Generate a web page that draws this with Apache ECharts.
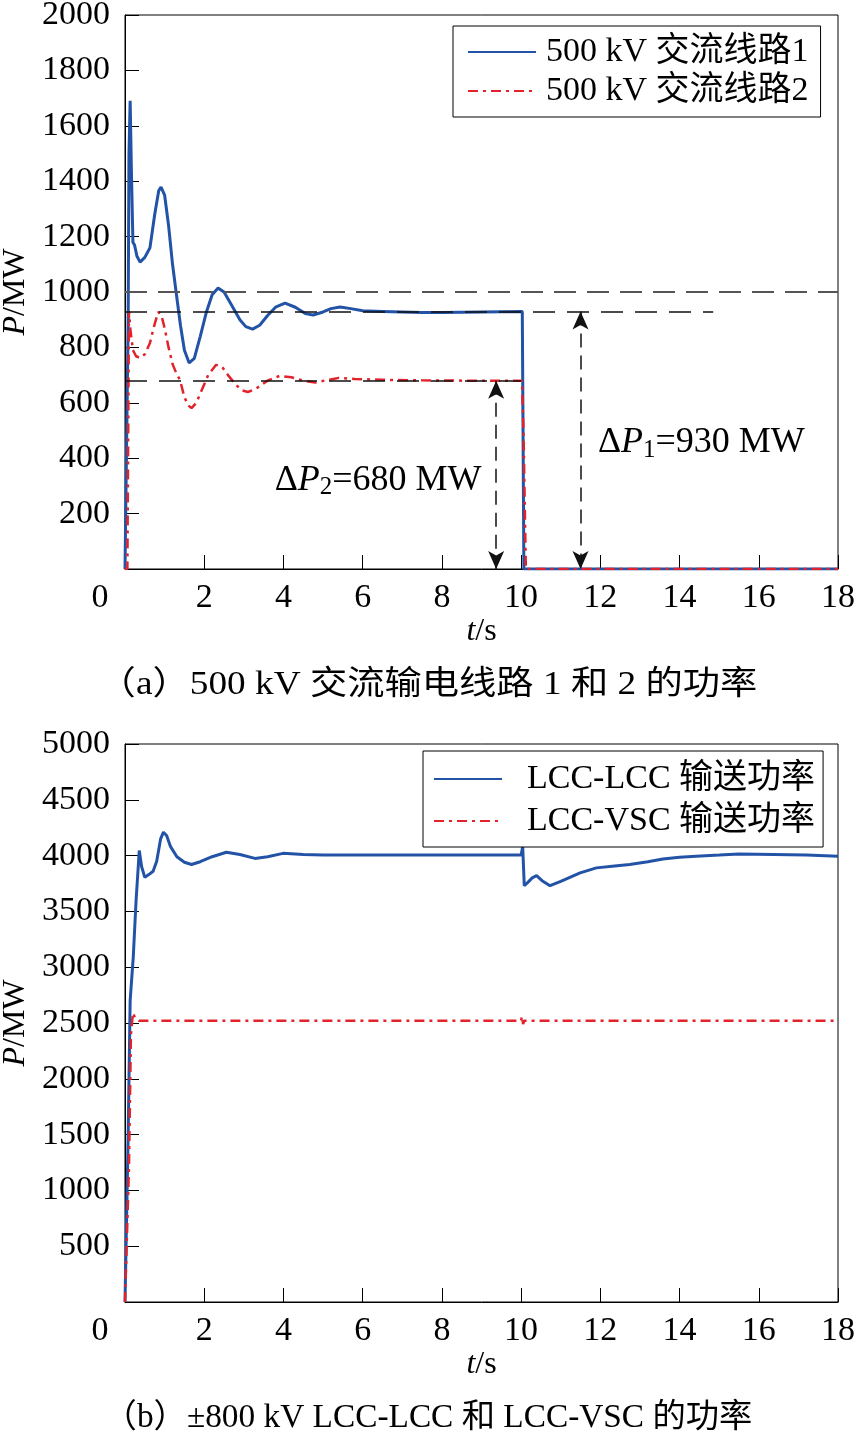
<!DOCTYPE html>
<html><head><meta charset="utf-8">
<script src="https://cdn.jsdelivr.net/npm/echarts/dist/echarts.min.js"></script>
<style>html,body{margin:0;padding:0;background:#fff}#c{width:856px;height:1446px}</style>
</head><body><div id="c"></div>
<script>
// ---------- data (a): 500 kV AC lines ----------
const line1Name = '500 kV 交流线路1';
const line2Name = '500 kV 交流线路2';
const line1T = [0,0.05,0.08,0.1,0.13,0.16,0.2,0.24,0.3,0.38,0.5,0.63,0.75,0.85,0.91,1.0,1.1,1.2,1.29,1.4,1.5,1.62,1.75,1.9,2.05,2.2,2.35,2.5,2.7,2.9,3.05,3.22,3.4,3.6,3.8,4.04,4.3,4.55,4.75,5.0,5.2,5.43,5.7,6.0,6.5,7.0,7.5,8.0,8.5,9.0,9.5,10.03,10.07,12,14,16,18];
const line1P = [0,0,900,1500,1690,1450,1180,1170,1130,1108,1125,1160,1280,1365,1379,1350,1240,1100,1000,880,790,744,760,840,925,990,1014,1000,950,900,875,866,880,915,945,960,945,922,917,928,940,946,940,932,930,928,926,926,927,928,929,930,0,0,0,0,0];
const line2T = [0,0.06,0.1,0.14,0.2,0.28,0.38,0.5,0.63,0.75,0.84,0.92,1.0,1.1,1.2,1.3,1.39,1.5,1.6,1.68,1.8,1.95,2.1,2.3,2.45,2.6,2.8,2.95,3.1,3.3,3.6,3.9,4.2,4.5,4.8,5.1,5.4,5.8,6.5,7.5,8.5,9.5,10.02,10.06,10.12,12,14,16,18];
const line2P = [0,0,930,860,790,768,762,775,816,885,928,915,870,800,740,705,682,620,590,581,600,650,700,737,730,700,665,645,639,650,680,697,692,680,673,682,690,686,683,681,680,680,680,500,0,0,0,0,0];
const refLevels = [1000, 930, 680];          // MW dashed reference levels
const refEnds = [18, 14.85, 10.28];          // t where each reference dash ends
const deltaArrows = [[9.37, 680], [11.5, 930]]; // [t, ΔP]
const deltaTexts = [
  {t: 6.39, p: 321, sub: '2', txt: '=680 MW'},
  {t: 14.55, p: 455, sub: '1', txt: '=930 MW'}
];
// ---------- data (b): ±800 kV DC ----------
const lccName = 'LCC-LCC 输送功率';
const vscName = 'LCC-VSC 输送功率';
const lccT = [0,0.04,0.08,0.13,0.21,0.28,0.36,0.42,0.5,0.6,0.71,0.8,0.9,0.97,1.05,1.15,1.31,1.5,1.68,1.9,2.2,2.56,2.9,3.28,3.6,3.99,4.5,5,6,7,8,9,10.0,10.04,10.08,10.17,10.28,10.39,10.55,10.73,11.0,11.49,11.9,12.3,12.74,13.2,13.58,14.0,14.42,15.0,15.5,16.37,17.2,18];
const lccP = [0,0,1500,2700,3100,3600,4045,3900,3805,3830,3860,3950,4150,4210,4180,4080,3990,3940,3920,3945,3990,4030,4010,3975,3990,4020,4010,4005,4005,4005,4005,4005,4005,4080,3730,3760,3800,3820,3770,3730,3770,3845,3890,3905,3920,3945,3970,3985,3995,4005,4015,4010,4005,3995];
const vscT = [0,0.05,0.1,0.15,0.2,0.26,0.35,0.5,1,2,4,6,8,10.0,10.02,10.05,10.08,12,14,16,18];
const vscP = [0,0,1200,2400,2590,2540,2520,2520,2520,2520,2520,2520,2520,2520,2560,2490,2520,2520,2520,2520,2520];
// ---------- axes ----------
const xTicks = {min: 0, max: 18, interval: 2};
const yTicksA = {min: 0, max: 2000, interval: 200};
const yTicksB = {min: 0, max: 5000, interval: 500};
const captionA = '（a）500 kV 交流输电线路 1 和 2 的功率';
const captionB = '（b）±800 kV LCC-LCC 和 LCC-VSC 的功率';

const zip = (t, v) => t.map((x, i) => [x, v[i]]);
const FONT = "'Liberation Serif','Noto Sans CJK SC',serif";
const BLUE = '#2353a6', RED = '#e3232c';
const chart = echarts.init(document.getElementById('c'), null, {renderer: 'canvas'});

function xAxisCfg(gi) {
  return {
    type: 'value', gridIndex: gi, min: xTicks.min, max: xTicks.max, interval: xTicks.interval,
    name: '{i|t}{n|/s}', nameLocation: 'middle', nameGap: 44,
    nameTextStyle: {rich: {i: {fontFamily: FONT, fontSize: 32, fontStyle: 'italic', color: '#000'}, n: {fontFamily: FONT, fontSize: 32, color: '#000'}}},
    axisLine: {lineStyle: {color: '#000', width: 1}},
    axisTick: {inside: true, length: 14, lineStyle: {color: '#000'}},
    splitLine: {show: false},
    axisLabel: {
      margin: 12, color: '#000', fontFamily: FONT, fontSize: 34,
      formatter: v => v === 0 ? '{o|0}' : String(v),
      rich: {o: {fontFamily: FONT, fontSize: 34, color: '#000', padding: [0, 50, 0, 0]}}
    }
  };
}
function yAxisCfg(gi, tk) {
  return {
    type: 'value', gridIndex: gi, min: tk.min, max: tk.max, interval: tk.interval,
    name: '{i|P}{n|/MW}', nameLocation: 'middle', nameGap: 90,
    nameTextStyle: {rich: {i: {fontFamily: FONT, fontSize: 32, fontStyle: 'italic', color: '#000'}, n: {fontFamily: FONT, fontSize: 32, color: '#000'}}},
    axisLine: {lineStyle: {color: '#000', width: 1}},
    axisTick: {inside: true, length: 14, lineStyle: {color: '#000'}},
    splitLine: {show: false},
    axisLabel: {margin: 15, color: '#000', fontFamily: FONT, fontSize: 34, formatter: v => v === 0 ? '' : String(v)}
  };
}

const dashGrey = {color: '#555', width: 2, type: [22, 11]};
const dashBlack = {color: '#111', width: 1.5, type: [22, 12]};
const arrowStyle = {color: '#111', width: 1.5, type: [14, 8]};

const markLineData = [];
refLevels.forEach((lv, i) => {
  markLineData.push([
    {coord: [0, lv], symbol: 'none', lineStyle: i === 0 ? dashGrey : dashBlack},
    {coord: [refEnds[i], lv], symbol: 'none'}
  ]);
});
deltaArrows.forEach(([t, dp]) => {
  markLineData.push([
    {coord: [t, dp], symbol: 'arrow', symbolSize: [12, 18], lineStyle: arrowStyle},
    {coord: [t, 0], symbol: 'arrow', symbolSize: [12, 18]}
  ]);
});

const deltaRich = {
  d: {fontFamily: FONT, fontSize: 36, color: '#000', lineHeight: 40},
  i: {fontFamily: FONT, fontSize: 36, fontStyle: 'italic', color: '#000', lineHeight: 40},
  s: {fontFamily: FONT, fontSize: 25, color: '#000', lineHeight: 18, verticalAlign: 'bottom'},
  n: {fontFamily: FONT, fontSize: 36, color: '#000', lineHeight: 40}
};
const markPointData = deltaTexts.map(d => ({
  coord: [d.t, d.p], symbol: 'rect', symbolSize: 1, itemStyle: {color: 'rgba(0,0,0,0)'},
  label: {show: true, position: 'inside', formatter: '{d|Δ}{i|P}{s|' + d.sub + '}{n|' + d.txt + '}', rich: deltaRich}
}));

const legendBase = {
  orient: 'vertical', backgroundColor: '#fff', borderColor: '#000', borderWidth: 1,
  itemWidth: 68, itemHeight: 14, align: 'left',
  itemStyle: {opacity: 0},
  textStyle: {fontFamily: FONT, fontSize: 34, color: '#000', lineHeight: 36}
};

const capStyle = t => ({fill: '#000', text: t, fontFamily: FONT, fontSize: 33, textAlign: 'center', textVerticalAlign: 'middle'});

const option = {
  animation: false,
  backgroundColor: '#fff',
  graphic: [
    {type: 'text', x: 428, y: 685, scaleX: 1.13, style: capStyle(captionA)},
    {type: 'text', x: 428, y: 1418, scaleX: 1.01, style: capStyle(captionB)}
  ],
  grid: [
    {left: 125, top: 15, width: 713, height: 554, show: true, borderColor: '#000', borderWidth: 1, containLabel: false, outerBoundsMode: 'none'},
    {left: 125, top: 744, width: 713, height: 558, show: true, borderColor: '#000', borderWidth: 1, containLabel: false, outerBoundsMode: 'none'}
  ],
  legend: [
    Object.assign({}, legendBase, {data: [line1Name, line2Name], left: 453, top: 26, padding: [8, 12, 8, 14], itemGap: 3,
      textStyle: Object.assign({}, legendBase.textStyle, {padding: [0, 0, 0, 5]})}),
    Object.assign({}, legendBase, {data: [lccName, vscName], left: 423, top: 751, padding: [10, 8, 8, 10], itemGap: 6,
      textStyle: Object.assign({}, legendBase.textStyle, {padding: [0, 0, 0, 20]})})
  ],
  xAxis: [xAxisCfg(0), xAxisCfg(1)],
  yAxis: [yAxisCfg(0, yTicksA), yAxisCfg(1, yTicksB)],
  series: [
    {name: line1Name, type: 'line', xAxisIndex: 0, yAxisIndex: 0, data: zip(line1T, line1P), symbol: 'none',
      lineStyle: {color: BLUE, width: 3}, itemStyle: {color: BLUE}, z: 3,
      markLine: {silent: true, animation: false, label: {show: false}, data: markLineData},
      markPoint: {silent: true, animation: false, data: markPointData}},
    {name: line2Name, type: 'line', xAxisIndex: 0, yAxisIndex: 0, data: zip(line2T, line2P), symbol: 'none',
      lineStyle: {color: RED, width: 2.5, type: [10, 5, 3, 5]}, itemStyle: {color: RED}, z: 4},
    {name: lccName, type: 'line', xAxisIndex: 1, yAxisIndex: 1, data: zip(lccT, lccP), symbol: 'none',
      lineStyle: {color: BLUE, width: 3}, itemStyle: {color: BLUE}, z: 3},
    {name: vscName, type: 'line', xAxisIndex: 1, yAxisIndex: 1, data: zip(vscT, vscP), symbol: 'none',
      lineStyle: {color: RED, width: 2.5, type: [10, 5, 3, 5]}, itemStyle: {color: RED}, z: 4}
  ]
};
chart.setOption(option);
</script>
</body></html>
